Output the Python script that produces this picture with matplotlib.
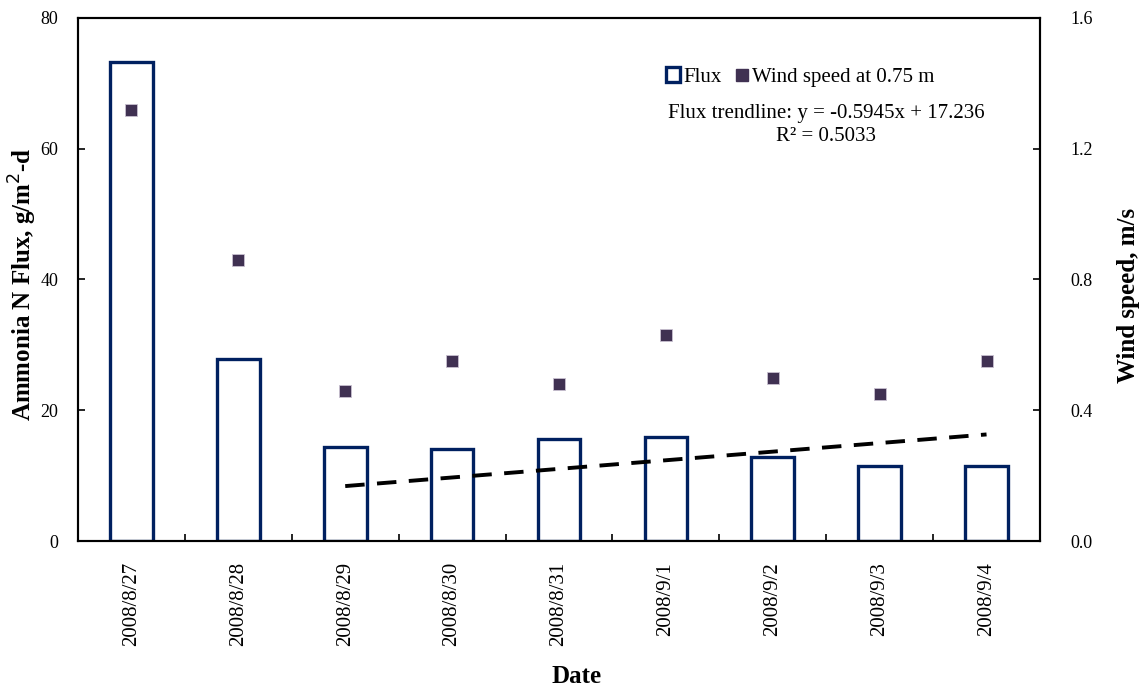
import matplotlib.pyplot as plt
import numpy as np
from matplotlib.lines import Line2D
from matplotlib.patches import Patch

dates = ["2008/8/27", "2008/8/28", "2008/8/29", "2008/8/30", "2008/8/31",
         "2008/9/1", "2008/9/2", "2008/9/3", "2008/9/4"]
flux = [73.3, 27.9, 14.4, 14.1, 15.6, 15.9, 12.8, 11.4, 11.5]
wind = [1.32, 0.86, 0.46, 0.55, 0.48, 0.63, 0.50, 0.45, 0.55]
# trendline drawn over the last seven days (start and end values)
trend_dates = ["2008/8/29", "2008/9/4"]
trend_values = [8.4, 16.3]

NAVY = "#002060"
PURPLE = "#403152"

plt.rcParams["font.family"] = ["Liberation Serif", "DejaVu Serif"]

fig = plt.figure(figsize=(11.47, 6.89), dpi=100)
ax = fig.add_axes([0.068, 0.2148, 0.8387, 0.7591])
ax2 = ax.twinx()

x = np.arange(len(dates))
ax.bar(x, flux, width=0.4, facecolor="white", edgecolor=NAVY, linewidth=2.4, zorder=2)
trend_x = [dates.index(d) for d in trend_dates]
ax.plot(trend_x, trend_values, color="black", linewidth=2.8, dashes=(5, 3.2), zorder=3)
ax2.plot(x, wind, linestyle="none", marker="s", markersize=9, color=PURPLE,
         markeredgecolor="#c8c0d0", markeredgewidth=0.6, zorder=4)

ax.set_xlim(-0.5, len(dates) - 0.5)
ax.set_ylim(0, 80)
ax.set_yticks([0, 20, 40, 60, 80])
ax2.set_ylim(0, 1.6)
ax2.set_yticks([0.0, 0.4, 0.8, 1.2, 1.6])
ax2.set_yticklabels([f"{v:.1f}" for v in [0.0, 0.4, 0.8, 1.2, 1.6]])

ax.set_xticks(x)
ax.set_xticklabels(dates, rotation=90, fontsize=15)
ax.set_xticks(np.arange(0.5, len(dates) - 1, 1.0), minor=True)
ax.tick_params(axis="x", which="major", length=0, pad=15)
ax.tick_params(axis="x", which="minor", direction="in", length=5, width=1.2)
ax.tick_params(axis="y", direction="in", length=5, width=1.2, labelsize=13, pad=14)
ax2.tick_params(axis="y", direction="in", length=5, width=1.2, labelsize=13, pad=22)

for a in (ax, ax2):
    for spine in a.spines.values():
        spine.set_linewidth(1.5)

ax.set_ylabel("Ammonia N Flux, g/m$^{2}$-d", fontsize=18, fontweight="bold")
ax.yaxis.set_label_coords(-0.041, 0.49)
ax2.set_ylabel("Wind speed, m/s", fontsize=18, fontweight="bold")
ax2.yaxis.set_label_coords(1.08, 0.47)
ax.set_xlabel("Date", fontsize=18, fontweight="bold")
ax.xaxis.set_label_coords(0.518, -0.238)

handles = [
    Patch(facecolor="white", edgecolor=NAVY, linewidth=2.4, label="Flux"),
    Line2D([], [], linestyle="none", marker="s", markersize=9, color=PURPLE, label="Wind speed at 0.75 m"),
]
ax.legend(handles=handles, loc="center left", bbox_to_anchor=(0.611, 0.887), ncol=2, frameon=False,
          fontsize=15, handlelength=0.7, handleheight=0.7, handletextpad=0.15, columnspacing=0.6,
          borderaxespad=0, borderpad=0)
ax.text(0.7775, 0.795, "Flux trendline: y = -0.5945x + 17.236\nR\u00b2 = 0.5033", transform=ax.transAxes,
        ha="center", va="center", fontsize=15, linespacing=1.3, multialignment="center")

fig.savefig("out.png", dpi=100, facecolor="white")
